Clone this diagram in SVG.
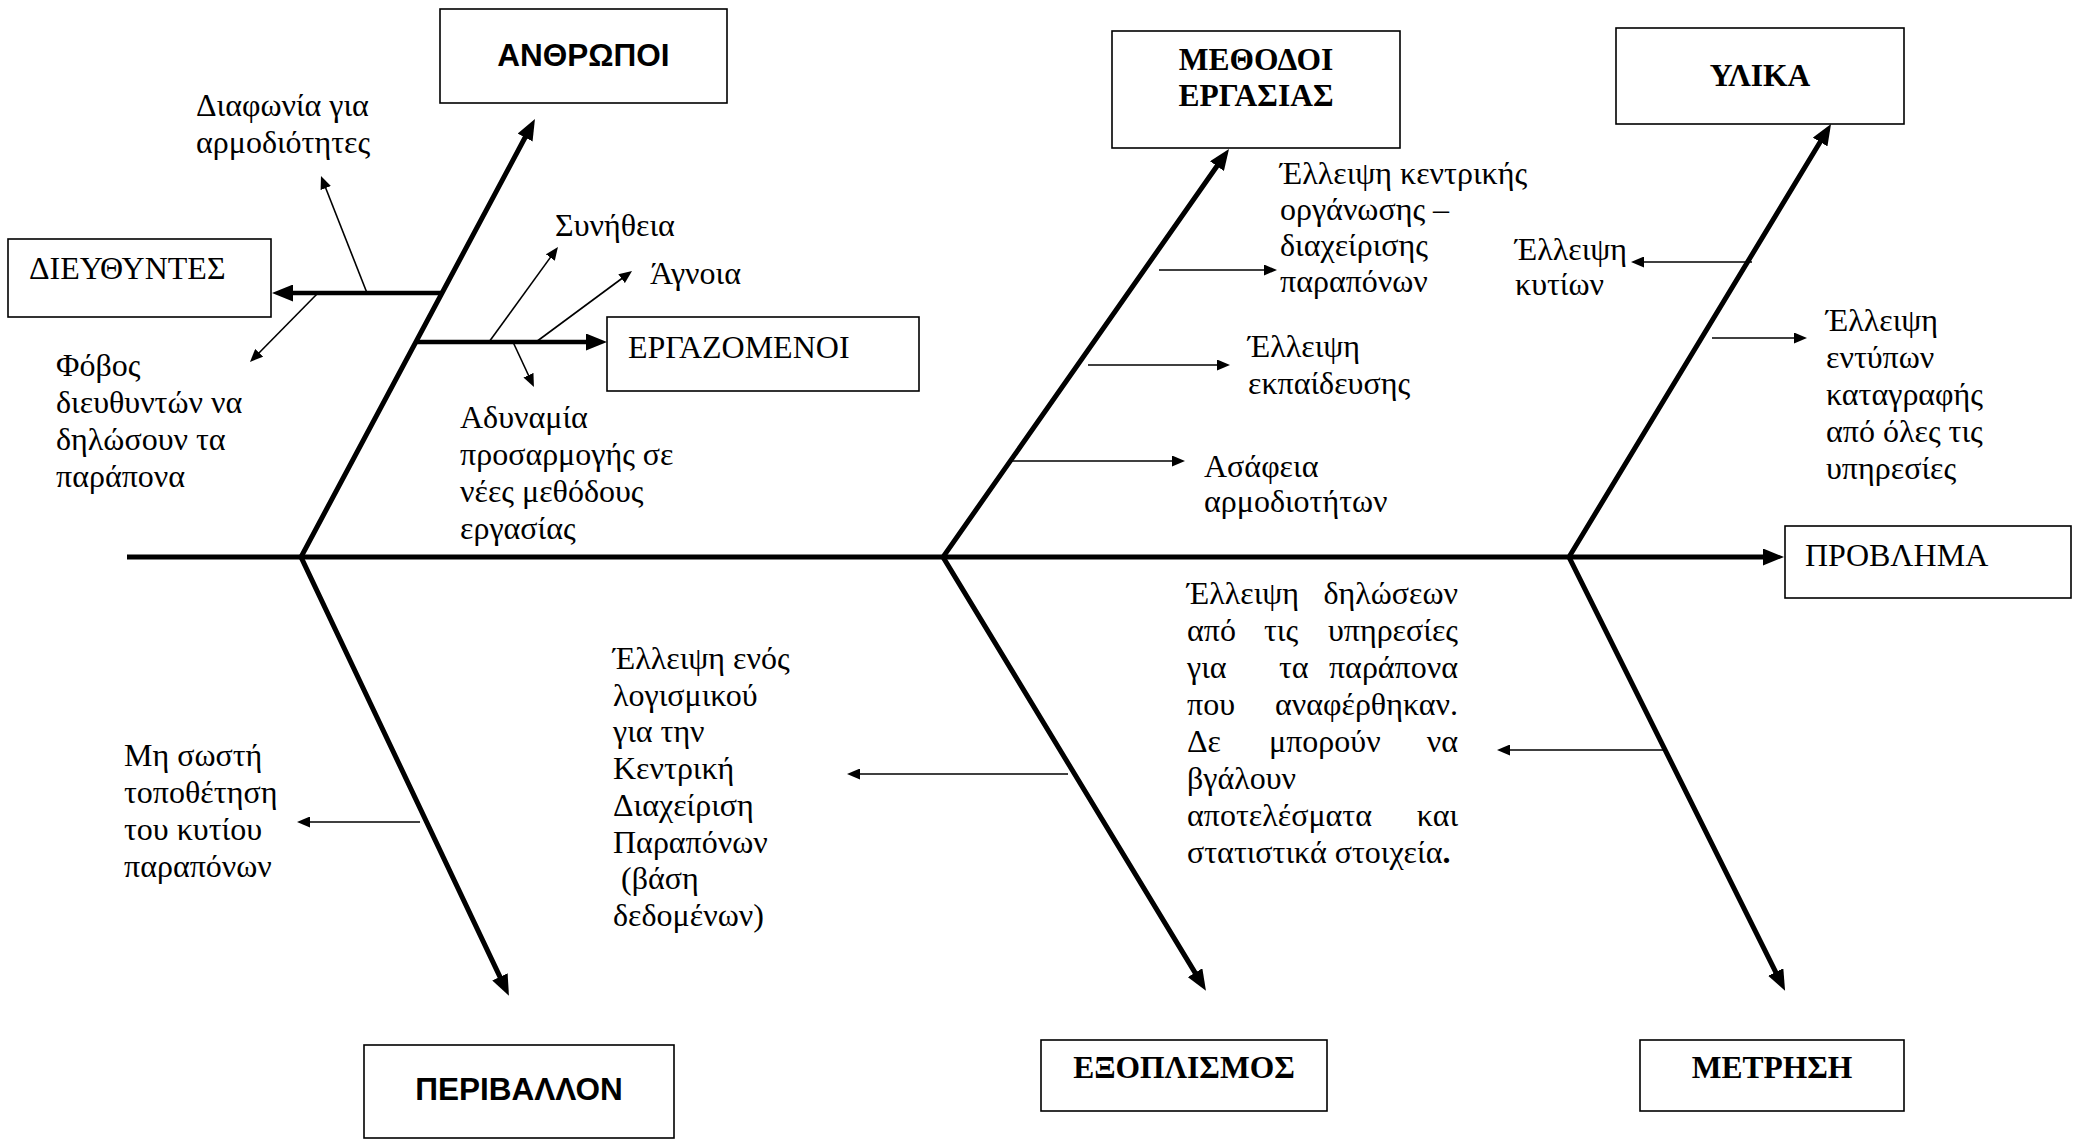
<svg xmlns="http://www.w3.org/2000/svg" width="2073" height="1139" viewBox="0 0 2073 1139">
  <style>
    .box { fill: #fff; stroke: #000; stroke-width: 1.6; }
    .t { font-family: "Liberation Serif", "Times New Roman", serif; font-size: 32px; fill: #000; }
    .tb { font-family: "Liberation Serif", "Times New Roman", serif; font-size: 31.5px; font-weight: bold; fill: #000; }
    .sb { font-family: "Liberation Sans", Arial, sans-serif; font-size: 31.5px; font-weight: bold; fill: #000; }
    .mid { text-anchor: middle; }
    .end { text-anchor: end; }
    .bone { fill: none; stroke: #000; stroke-width: 5; stroke-linejoin: miter; marker-start: url(#big-start); marker-end: url(#big); }
    .spine { fill: none; stroke: #000; stroke-width: 5; marker-end: url(#big); }
    .branch { fill: none; stroke: #000; stroke-width: 4.5; marker-end: url(#big); }
    .twig { fill: none; stroke: #000; stroke-width: 1.6; marker-end: url(#small); }
  </style>
  <defs>
    <marker id="big" markerUnits="userSpaceOnUse" markerWidth="22" markerHeight="17" refX="2" refY="8.5" orient="auto">
      <path d="M0,0 L21,8.5 L0,17 z" fill="#000"/>
    </marker>
    <marker id="big-start" markerUnits="userSpaceOnUse" markerWidth="22" markerHeight="17" refX="2" refY="8.5" orient="auto-start-reverse">
      <path d="M0,0 L21,8.5 L0,17 z" fill="#000"/>
    </marker>
    <marker id="small" markerUnits="userSpaceOnUse" markerWidth="14" markerHeight="11" refX="2" refY="5.5" orient="auto">
      <path d="M0,0 L13,5.5 L0,11 z" fill="#000"/>
    </marker>
  </defs>

  <rect width="2073" height="1139" fill="#fff"/>

  <!-- connectors: spine, category bones, sub-branches and cause arrows -->
  <g id="connectors">
    <line class="spine" x1="127" y1="557" x2="1765" y2="557"/>
    <path class="bone" d="M526,135.8 L301,557 L500.8,978.6"/>
    <path class="bone" d="M1218.1,164.5 L943,557 L1196.1,974.4"/>
    <path class="bone" d="M1821.2,140.3 L1569,557 L1776.6,973.8"/>

    <line class="branch" x1="442" y1="293" x2="291" y2="293"/>
    <line class="branch" x1="416" y1="342" x2="588" y2="342"/>

    <line class="twig" x1="367" y1="293" x2="325" y2="186.2"/>
    <line class="twig" x1="318" y1="293" x2="257.7" y2="354.2"/>
    <line class="twig" x1="489" y1="342" x2="551.5" y2="255.9"/>
    <line class="twig" x1="536" y1="342" x2="623.2" y2="277.5"/>
    <line class="twig" x1="513" y1="342" x2="529.3" y2="377"/>

    <line class="twig" x1="1159" y1="270" x2="1266" y2="270"/>
    <line class="twig" x1="1088" y1="365" x2="1219" y2="365"/>
    <line class="twig" x1="1012" y1="461" x2="1174" y2="461"/>

    <line class="twig" x1="1752" y1="262" x2="1642" y2="262"/>
    <line class="twig" x1="1712" y1="338" x2="1796" y2="338"/>

    <line class="twig" x1="420" y1="822" x2="308" y2="822"/>
    <line class="twig" x1="1068" y1="774" x2="858" y2="774"/>
    <line class="twig" x1="1664" y1="750" x2="1508" y2="750"/>
  </g>

  <!-- category boxes -->
  <g id="anthropoi">
    <rect class="box" x="440" y="9" width="287" height="94"/>
    <text class="sb mid" x="583.5" y="66">ΑΝΘΡΩΠΟΙ</text>
  </g>
  <g id="methodoi">
    <rect class="box" x="1112" y="31" width="288" height="117"/>
    <text class="tb mid" x="1256" y="70">ΜΕΘΟΔΟΙ</text>
    <text class="tb mid" x="1256" y="106">ΕΡΓΑΣΙΑΣ</text>
  </g>
  <g id="ylika">
    <rect class="box" x="1616" y="28" width="288" height="96"/>
    <text class="tb mid" x="1760" y="86">ΥΛΙΚΑ</text>
  </g>
  <g id="periballon">
    <rect class="box" x="364" y="1045" width="310" height="93"/>
    <text class="sb mid" x="519" y="1100">ΠΕΡΙΒΑΛΛΟΝ</text>
  </g>
  <g id="exoplismos">
    <rect class="box" x="1041" y="1040" width="286" height="71"/>
    <text class="tb mid" x="1184" y="1078">ΕΞΟΠΛΙΣΜΟΣ</text>
  </g>
  <g id="metrisi">
    <rect class="box" x="1640" y="1040" width="264" height="71"/>
    <text class="tb mid" x="1772" y="1078">ΜΕΤΡΗΣΗ</text>
  </g>

  <!-- sub-group boxes and the effect box -->
  <g id="dieythyntes">
    <rect class="box" x="8" y="239" width="263" height="78"/>
    <text class="t" x="29" y="279">ΔΙΕΥΘΥΝΤΕΣ</text>
  </g>
  <g id="ergazomenoi">
    <rect class="box" x="607" y="317" width="312" height="74"/>
    <text class="t" x="628" y="358">ΕΡΓΑΖΟΜΕΝΟΙ</text>
  </g>
  <g id="provlima">
    <rect class="box" x="1785" y="526" width="286" height="72"/>
    <text class="t" x="1805" y="566">ΠΡΟΒΛΗΜΑ</text>
  </g>

  <!-- cause labels -->
  <g id="cause-diafonia">
    <text class="t" x="196" y="116">Διαφωνία για</text>
    <text class="t" x="196" y="153">αρμοδιότητες</text>
  </g>
  <g id="cause-fovos">
    <text class="t" x="56" y="376">Φόβος</text>
    <text class="t" x="56" y="413">διευθυντών να</text>
    <text class="t" x="56" y="450">δηλώσουν τα</text>
    <text class="t" x="56" y="487">παράπονα</text>
  </g>
  <g id="cause-synitheia">
    <text class="t" x="555" y="236">Συνήθεια</text>
  </g>
  <g id="cause-agnoia">
    <text class="t" x="650" y="284">Άγνοια</text>
  </g>
  <g id="cause-adynamia">
    <text class="t" x="460" y="428">Αδυναμία</text>
    <text class="t" x="460" y="465">προσαρμογής σε</text>
    <text class="t" x="460" y="502">νέες μεθόδους</text>
    <text class="t" x="460" y="539">εργασίας</text>
  </g>
  <g id="cause-organosi">
    <text class="t" x="1280" y="184">Έλλειψη κεντρικής</text>
    <text class="t" x="1280" y="220">οργάνωσης –</text>
    <text class="t" x="1280" y="256">διαχείρισης</text>
    <text class="t" x="1280" y="292">παραπόνων</text>
  </g>
  <g id="cause-ekpaideysi">
    <text class="t" x="1248" y="357">Έλλειψη</text>
    <text class="t" x="1248" y="394">εκπαίδευσης</text>
  </g>
  <g id="cause-asafeia">
    <text class="t" x="1204" y="477">Ασάφεια</text>
    <text class="t" x="1204" y="512">αρμοδιοτήτων</text>
  </g>
  <g id="cause-kytia">
    <text class="t" x="1515" y="260">Έλλειψη</text>
    <text class="t" x="1515" y="295">κυτίων</text>
  </g>
  <g id="cause-entypa">
    <text class="t" x="1826" y="331">Έλλειψη</text>
    <text class="t" x="1826" y="368">εντύπων</text>
    <text class="t" x="1826" y="405">καταγραφής</text>
    <text class="t" x="1826" y="442">από όλες τις</text>
    <text class="t" x="1826" y="479">υπηρεσίες</text>
  </g>
  <g id="cause-topothetisi">
    <text class="t" x="124" y="766">Μη σωστή</text>
    <text class="t" x="124" y="803">τοποθέτηση</text>
    <text class="t" x="124" y="840">του κυτίου</text>
    <text class="t" x="124" y="877">παραπόνων</text>
  </g>
  <g id="cause-logismiko">
    <text class="t" x="613" y="669">Έλλειψη ενός</text>
    <text class="t" x="613" y="706">λογισμικού</text>
    <text class="t" x="613" y="742">για την</text>
    <text class="t" x="613" y="779">Κεντρική</text>
    <text class="t" x="613" y="816">Διαχείριση</text>
    <text class="t" x="613" y="853">Παραπόνων</text>
    <text class="t" x="613" y="889" xml:space="preserve"> (βάση</text>
    <text class="t" x="613" y="926">δεδομένων)</text>
  </g>
  <!-- justified paragraph: each line spread between x=1187 and x=1458 -->
  <g id="cause-diloseis">
    <text class="t" x="1187" y="604">Έλλειψη</text>
    <text class="t end" x="1458" y="604">δηλώσεων</text>
    <text class="t" x="1187" y="641">από</text>
    <text class="t" x="1264" y="641">τις</text>
    <text class="t end" x="1458" y="641">υπηρεσίες</text>
    <text class="t" x="1187" y="678">για</text>
    <text class="t" x="1279" y="678">τα</text>
    <text class="t end" x="1458" y="678">παράπονα</text>
    <text class="t" x="1187" y="715">που</text>
    <text class="t end" x="1458" y="715">αναφέρθηκαν.</text>
    <text class="t" x="1187" y="752">Δε</text>
    <text class="t" x="1269" y="752">μπορούν</text>
    <text class="t end" x="1458" y="752">να</text>
    <text class="t" x="1187" y="789">βγάλουν</text>
    <text class="t" x="1187" y="826">αποτελέσματα</text>
    <text class="t end" x="1458" y="826">και</text>
    <text class="t" x="1187" y="863">στατιστικά στοιχεία<tspan font-weight="bold">.</tspan></text>
  </g>
</svg>
